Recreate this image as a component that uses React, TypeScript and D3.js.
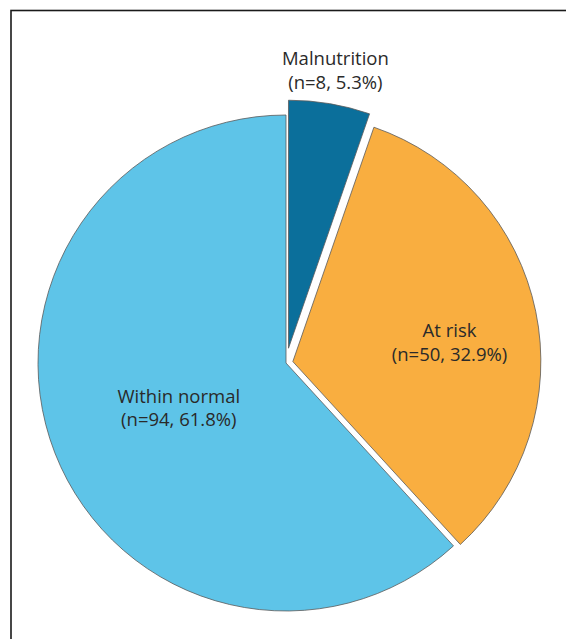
import React from "react";
import * as d3 from "d3";

const categories = ["Malnutrition", "At risk", "Within normal"];
const counts = [8, 50, 94];
const percents = [5.3, 32.9, 61.8];
const colors = ["#0b6f9b", "#f9ae40", "#5ec4e8"];
const explode = [15, 7, 0];
const labelRadius = [283, 160, 115];
const labelDy = [0, 12, 2];

const W = 566;
const H = 639;
const cx = 286;
const cy = 363;
const R = 248;

export default function App() {
  const pie = d3
    .pie<number>()
    .sort(null)
    .value((d) => d)
    .startAngle(0)
    .endAngle(2 * Math.PI);
  const arcs = pie(percents);
  const arc = d3.arc<d3.PieArcDatum<number>>().innerRadius(0).outerRadius(R);

  return (
    <svg
      width={W}
      height={H}
      style={{ position: "absolute", left: 0, top: 0, background: "#fff" }}
    >
      <rect x={11} y={10.5} width={W + 20} height={H + 20} fill="none" stroke="#1a1a1a" strokeWidth={1.6} />
      <g transform={`translate(${cx},${cy})`}>
        {arcs.map((a, i) => {
          const mid = (a.startAngle + a.endAngle) / 2;
          const ox = Math.sin(mid) * explode[i];
          const oy = -Math.cos(mid) * explode[i];
          return (
            <path
              key={categories[i]}
              d={arc(a) || ""}
              transform={`translate(${ox},${oy})`}
              fill={colors[i]}
              stroke="#5a5a5a"
              strokeWidth={0.8}
            />
          );
        })}
        {arcs.map((a, i) => {
          const mid = (a.startAngle + a.endAngle) / 2;
          const ox = Math.sin(mid) * explode[i];
          const oy = -Math.cos(mid) * explode[i];
          const la = d3.arc<d3.PieArcDatum<number>>().innerRadius(labelRadius[i]).outerRadius(labelRadius[i]);
          const [lx, ly] = la.centroid(a);
          return (
            <text
              key={"l" + i}
              x={lx + ox}
              y={ly + oy + labelDy[i]}
              textAnchor="middle"
              fontFamily="'Open Sans', sans-serif"
              fontSize={18.5}
              fill="#2a2a2a"
            >
              <tspan x={lx + ox} dy={-4}>{categories[i]}</tspan>
              <tspan x={lx + ox} dy={23.5}>{`(n=${counts[i]}, ${percents[i]}%)`}</tspan>
            </text>
          );
        })}
      </g>
    </svg>
  );
}
